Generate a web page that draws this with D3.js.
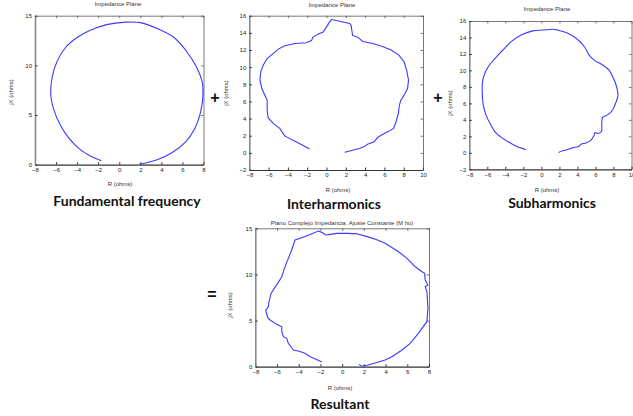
<!DOCTYPE html>
<html><head><meta charset="utf-8">
<script src="https://cdn.jsdelivr.net/npm/d3@7"></script>
<style>
html,body{margin:0;padding:0;background:#fff;}
svg{display:block;}
.tick text{font-family:"Liberation Sans",Arial,sans-serif;font-size:6px;fill:#222;}
.small{font-family:"Liberation Sans",Arial,sans-serif;font-size:6px;fill:#333;}
.big{font-family:Lato,"Open Sans",sans-serif;font-weight:700;font-size:14px;fill:#111;}
</style></head><body>
<svg id="c" width="633" height="416"></svg>
<script>
// ---- data (R, jX) in ohms ----
const fundamental = [
 [-1.7,0.4],[-2.8,0.9],[-3.9,1.7],[-4.8,2.7],[-5.6,4.0],[-6.2,5.5],[-6.5,7.0],[-6.35,8.9],
 [-5.9,10.4],[-5.1,11.8],[-4.0,12.8],[-2.8,13.5],[-1.2,14.1],[0.6,14.35],[2.0,14.3],[3.6,13.7],
 [5.2,12.8],[6.4,11.4],[7.3,9.9],[7.9,8.2],[7.95,7.0],[7.7,5.2],[7.2,3.7],[6.3,2.3],[5.0,1.2],
 [3.6,0.5],[2.6,0.2],[1.9,0.05]
];
const interharmonics = [
 [-1.75,0.45],[-2.8,1.1],[-4.3,1.95],[-4.85,2.85],[-5.5,3.4],[-6.05,4.1],[-6.15,5.0],[-6.15,6.15],
 [-6.4,6.75],[-6.7,7.5],[-6.9,8.5],[-6.8,9.5],[-6.55,10.25],[-6.15,11.0],[-5.5,11.6],[-5.0,12.1],
 [-4.3,12.5],[-3.3,12.75],[-2.1,12.85],[-1.55,13.1],[-1.4,13.5],[-0.9,13.85],[-0.35,14.1],[0,14.7],
 [0.4,15.4],[0.5,15.55],[1.0,15.45],[2.4,15.1],[2.55,14.9],[2.7,13.7],[3.25,13.5],[3.75,13.0],
 [4.8,12.75],[5.8,12.4],[6.7,12.0],[7.5,11.4],[8.05,10.6],[8.3,9.65],[8.5,8.5],[8.4,7.5],
 [8.05,6.75],[7.7,6.15],[7.55,5.55],[7.45,4.6],[7.2,3.6],[6.95,2.85],[6.35,2.45],[5.65,2.05],
 [5.3,1.8],[4.95,1.3],[4.25,1.0],[3.9,0.7],[3.4,0.5],[2.7,0.3],[2.0,0.1],[1.9,0.05]
];
const subharmonics = [
 [-1.7,0.4],[-2.8,0.8],[-3.7,1.35],[-4.6,2.0],[-5.15,2.55],[-5.7,3.55],[-6.15,4.6],[-6.45,5.8],
 [-6.55,7.0],[-6.55,8.45],[-6.35,9.45],[-5.9,10.45],[-5.15,11.45],[-4.25,12.5],[-3.35,13.5],
 [-2.25,14.3],[-0.95,14.8],[0.15,14.9],[1.25,15.0],[1.8,14.9],[2.75,14.6],[3.85,13.9],[4.75,12.9],
 [5.3,11.85],[5.85,11.25],[6.8,10.65],[7.5,10.05],[8.0,9.05],[8.35,8.0],[8.5,7.0],[8.3,6.2],
 [7.9,5.2],[7.35,4.6],[6.8,4.3],[6.7,3.55],[6.65,2.55],[6.25,2.35],[5.95,2.45],[5.8,2.0],
 [5.5,1.55],[4.95,1.2],[4.4,1.05],[4.2,0.8],[3.45,0.6],[2.75,0.35],[2.35,0.25],[1.9,0.05]
];
const resultant = [
 [-1.88,0.5],[-2.4,0.8],[-2.95,1.08],[-3.42,1.45],[-4.03,1.7],[-4.49,1.81],[-4.96,2.53],[-5.1,3.07],
 [-5.42,3.25],[-5.56,3.79],[-5.56,4.33],[-6.03,4.59],[-6.64,5.06],[-6.86,5.31],[-7.04,6.14],[-6.8,6.5],
 [-6.74,7.04],[-6.55,7.95],[-6.25,8.49],[-5.88,9.14],[-5.56,9.75],[-5.32,10.66],[-4.96,11.74],
 [-4.71,12.46],[-4.34,13.73],[-3.72,13.98],[-2.95,14.34],[-2.19,14.7],[-1.87,14.56],[-1.5,14.27],
 [-1.1,14.34],[-0.5,14.45],[0.45,14.45],[1.35,14.4],[2.3,14.1],[3.2,13.75],[3.96,13.37],[5.19,12.46],
 [5.97,11.74],[6.73,10.83],[7.35,10.29],[7.59,10.12],[7.65,9.39],[7.9,8.85],[7.65,8.67],[7.81,8.13],
 [7.9,6.33],[7.81,4.88],[7.35,4.16],[6.89,3.43],[6.27,2.53],[5.51,1.81],[4.58,1.08],[3.96,0.73],
 [3.2,0.45],[2.3,0.15],[1.8,0.05],[1.55,0.25]
];
const xTicks16 = [-8,-6,-4,-2,0,2,4,6,8];
const xTicks18 = [-8,-6,-4,-2,0,2,4,6,8,10];
const yTicks15 = [0,5,10,15];
const yTicks16 = [-2,0,2,4,6,8,10,12,14,16];
const titles = ["Impedance Plane","Impedance Plane","Impedance Plane","Plano Complejo Impedancia, Ajuste Constante (M ho)"];
const captions = ["Fundamental frequency","Interharmonics","Subharmonics","Resultant"];
const xLabel = "R (ohms)", yLabel = "jX (ohms)";

// ---- layout ----
const panels = [
 {data:fundamental, smooth:true, xd:[-8,8], yd:[0,15], xr:[35,203.5], yr:[164.7,15.7], xt:xTicks16, yt:yTicks15,
  title:[118,4], xl:[120,184], yl:[11,92], cap:[127,202.5]},
 {data:interharmonics, smooth:false, xd:[-8,10], yd:[-2,16], xr:[249.3,423], yr:[170,15.7], xt:xTicks18, yt:yTicks16,
  title:[332,5], xl:[338,190], yl:[226,93], cap:[334,205]},
 {data:subharmonics, smooth:true, xd:[-8,10], yd:[-2,16], xr:[469.3,631.5], yr:[169.3,21], xt:xTicks18, yt:yTicks16,
  title:[547,9], xl:[547,190], yl:[450,103], cap:[552,204.5]},
 {data:resultant, smooth:false, xd:[-8,8], yd:[0,15], xr:[255.3,429], yr:[366.7,228.3], xt:xTicks16, yt:yTicks15,
  title:[342,223], xl:[340,388], yl:[230,305], cap:[340,405.5]}
];

const svg = d3.select("#c");
panels.forEach((p,i)=>{
  const x = d3.scaleLinear().domain(p.xd).range(p.xr);
  const y = d3.scaleLinear().domain(p.yd).range(p.yr);
  const g = svg.append("g");
  const [x0,x1] = p.xr, [y0,y1] = p.yr;
  // top & right
  g.append("g").attr("transform",`translate(0,${y1})`)
    .call(d3.axisTop(x).tickValues(p.xt).tickSizeInner(-2.5).tickSizeOuter(0).tickFormat(""))
    .call(a=>a.selectAll("path,line").attr("stroke","#555").attr("stroke-width",0.8));
  g.append("g").attr("transform",`translate(${x1},0)`)
    .call(d3.axisRight(y).tickValues(p.yt).tickSizeInner(-2.5).tickSizeOuter(0).tickFormat(""))
    .call(a=>a.selectAll("path,line").attr("stroke","#555").attr("stroke-width",0.8));
  // bottom & left
  g.append("g").attr("transform",`translate(0,${y0})`)
    .call(d3.axisBottom(x).tickValues(p.xt).tickSizeInner(-2.5).tickSizeOuter(0).tickPadding(3))
    .call(a=>{a.select(".domain").attr("stroke","#333").attr("stroke-width",1.2);
              a.selectAll("line").attr("stroke","#333");});
  g.append("g").attr("transform",`translate(${x0},0)`)
    .call(d3.axisLeft(y).tickValues(p.yt).tickSizeInner(-2.5).tickSizeOuter(0).tickPadding(3))
    .call(a=>{a.select(".domain").attr("stroke","#888").attr("stroke-width",1.6);
              a.selectAll("line").attr("stroke","#333");});
  g.selectAll(".tick text").attr("fill","#222");
  // curve
  const line = d3.line().x(d=>x(d[0])).y(d=>y(d[1]));
  if (p.smooth) line.curve(d3.curveCatmullRom.alpha(0.5));
  g.append("path").datum(p.data)
    .attr("d", line)
    .attr("fill","none").attr("stroke","#3a3aff").attr("stroke-width",1.1);
  // texts
  g.append("text").attr("class","small").attr("x",p.title[0]).attr("y",p.title[1])
    .attr("text-anchor","middle").attr("dominant-baseline","middle").text(titles[i]);
  g.append("text").attr("class","small").attr("x",p.xl[0]).attr("y",p.xl[1])
    .attr("text-anchor","middle").attr("dominant-baseline","middle").text(xLabel);
  g.append("text").attr("class","small")
    .attr("transform",`translate(${p.yl[0]},${p.yl[1]}) rotate(-90)`)
    .attr("text-anchor","middle").attr("dominant-baseline","middle").text(yLabel);
  g.append("text").attr("class","big").attr("x",p.cap[0]).attr("y",p.cap[1])
    .attr("text-anchor","middle").attr("dominant-baseline","middle").text(captions[i]);
});
const ops = [["+",215,99],["+",438,99],["=",212,296]];
svg.selectAll("text.op").data(ops).join("text").attr("class","op")
  .attr("x",d=>d[1]).attr("y",d=>d[2]).attr("text-anchor","middle").attr("dominant-baseline","middle")
  .attr("font-family","Liberation Sans, Arial, sans-serif").attr("font-weight","700").attr("font-size","16px")
  .attr("fill","#111").text(d=>d[0]);
</script>
</body></html>
